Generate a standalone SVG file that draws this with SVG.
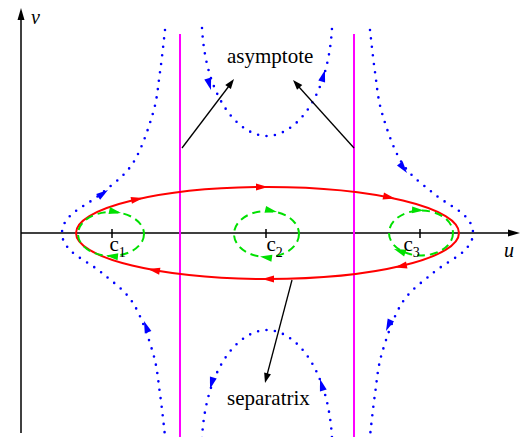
<svg xmlns="http://www.w3.org/2000/svg" xmlns:xlink="http://www.w3.org/1999/xlink" width="521" height="437" viewBox="0 0 521 437">
<style>
.axis{stroke:#000;stroke-width:1.5;fill:none}
.asym{stroke:#ff00ff;stroke-width:2;fill:none}
.sep{stroke:#ff0000;stroke-width:2;fill:none}
.orbit{stroke:#00e000;stroke-width:2;fill:none;stroke-dasharray:8 5}
.traj{stroke:#0000ff;stroke-width:2.6;fill:none;stroke-dasharray:0 8.5;stroke-linecap:round}
.lead{stroke:#000;stroke-width:1.3;fill:none}
.lbl{font-family:"Liberation Serif","Times New Roman",serif;font-size:21px;fill:#000}
.var{font-family:"Liberation Serif","Times New Roman",serif;font-size:20px;font-style:italic;fill:#000}
.red{fill:#ff0000}.grn{fill:#00e000}.blu{fill:#0000ff}.blk{fill:#000}
</style>
<defs>
<path id="ah" d="M0,0 L-12,-3.5 L-12,3.5 Z"/>
<path id="ahb" d="M0,0 L-10,-3.5 L-10,3.5 Z"/>
<path id="outer" d="M165,30 C164.2,37 162,58.2 160,72 C158,85.8 157.5,97.8 153,113 C148.5,128.2 141.5,149.7 133,163 C124.5,176.3 112.3,184.3 102,193 C91.7,201.7 77.7,208.3 71,215 C64.3,221.7 62,227 62,233 C62,239 64.3,244.3 71,251 C77.7,257.7 91.7,264.3 102,273 C112.3,281.7 124.5,289.7 133,303 C141.5,316.3 148.5,337.8 153,353 C157.5,368.2 158,380.2 160,394 C162,407.8 164.2,429 165,436"/>
<path id="inner" d="M202,28 C206,100 240,136 267,136 C294,136 328,100 332,28"/>
</defs>

<g id="axes">
<line class="axis" x1="21" y1="433" x2="21" y2="18"/>
<path class="blk" d="M21,8 L17.5,20 L24.5,20 Z"/>
<line class="axis" x1="21" y1="233" x2="511" y2="233"/>
<path class="blk" d="M520,233 L508,229.5 L508,236.5 Z"/>
<text class="var" x="31" y="24">v</text>
<text class="var" x="504" y="257">u</text>
</g>

<g id="asymptotes">
<line class="asym" x1="180" y1="34" x2="180" y2="437"/>
<line class="asym" x1="354" y1="34" x2="354" y2="437"/>
</g>

<g id="trajectories">
<use xlink:href="#outer" class="traj"/>
<use xlink:href="#outer" class="traj" transform="matrix(-1 0 0 1 535 0)"/>
<use xlink:href="#inner" class="traj"/>
<use xlink:href="#inner" class="traj" transform="matrix(1 0 0 -1 0 466)"/>
<use xlink:href="#ah" class="blu" transform="translate(108,190) rotate(-35)"/>
<use xlink:href="#ah" class="blu" transform="translate(144,321) rotate(-110)"/>
<use xlink:href="#ah" class="blu" transform="translate(407,173) rotate(53)"/>
<use xlink:href="#ah" class="blu" transform="translate(386,331) rotate(114)"/>
<use xlink:href="#ah" class="blu" transform="translate(211,90) rotate(74)"/>
<use xlink:href="#ah" class="blu" transform="translate(325,70) rotate(-74)"/>
<use xlink:href="#ah" class="blu" transform="translate(210,389) rotate(106)"/>
<use xlink:href="#ah" class="blu" transform="translate(320,379) rotate(-106)"/>
</g>

<g id="separatrix">
<ellipse class="sep" cx="267.5" cy="233" rx="191.5" ry="46"/>
<use xlink:href="#ah" class="red" transform="translate(143,198) rotate(-11.6)"/>
<use xlink:href="#ah" class="red" transform="translate(268,187) rotate(0)"/>
<use xlink:href="#ah" class="red" transform="translate(395,198.5) rotate(12.1)"/>
<use xlink:href="#ah" class="red" transform="translate(148,269) rotate(190.9)"/>
<use xlink:href="#ah" class="red" transform="translate(262,279) rotate(180)"/>
<use xlink:href="#ah" class="red" transform="translate(395,267.5) rotate(167.9)"/>
</g>

<g id="center-c1">
<ellipse class="orbit" cx="111" cy="234" rx="33" ry="22"/>
<use xlink:href="#ah" class="grn" transform="translate(121,213) rotate(12)"/>
<use xlink:href="#ah" class="grn" transform="translate(106,255.5) rotate(186)"/>
<line class="axis" x1="112" y1="229" x2="112" y2="238"/>
<text class="lbl" x="109.5" y="251" font-size="20">c<tspan font-size="14" dy="6">1</tspan></text>
</g>

<g id="center-c2">
<ellipse class="orbit" cx="266.5" cy="234" rx="32.5" ry="23"/>
<use xlink:href="#ah" class="grn" transform="translate(277,212) rotate(13)"/>
<use xlink:href="#ah" class="grn" transform="translate(260,256.5) rotate(188)"/>
<line class="axis" x1="266" y1="229" x2="266" y2="238"/>
<text class="lbl" x="266.5" y="251" font-size="20">c<tspan font-size="14" dy="6">2</tspan></text>
</g>

<g id="center-c3">
<ellipse class="orbit" cx="421" cy="233" rx="32" ry="22.5"/>
<use xlink:href="#ah" class="grn" transform="translate(424,210.5) rotate(3)"/>
<use xlink:href="#ah" class="grn" transform="translate(394,249) rotate(200)"/>
<line class="axis" x1="420" y1="229" x2="420" y2="238"/>
<text class="lbl" x="403.5" y="251" font-size="20">c<tspan font-size="14" dy="6">3</tspan></text>
</g>

<g id="label-asymptote">
<text class="lbl" x="227" y="63">asymptote</text>
</g>
<g id="label-separatrix">
<text class="lbl" x="227" y="405">separatrix</text>
</g>

<g id="connectors">
<line class="lead" x1="182" y1="148" x2="229" y2="86"/>
<use xlink:href="#ahb" class="blk" transform="translate(234,79) rotate(-53.4)"/>
<line class="lead" x1="354" y1="148" x2="299" y2="87"/>
<use xlink:href="#ahb" class="blk" transform="translate(293,80) rotate(-131.9)"/>
<line class="lead" x1="292" y1="280" x2="267" y2="375"/>
<use xlink:href="#ahb" class="blk" transform="translate(265,383) rotate(104.7)"/>
</g>
</svg>
